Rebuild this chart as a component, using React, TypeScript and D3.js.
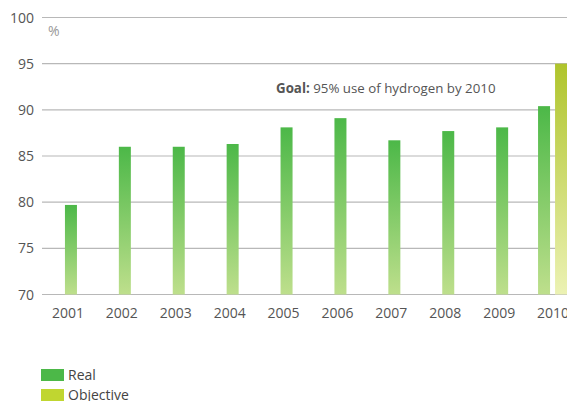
import React from "react";
import * as d3 from "d3";

const years = ["2001","2002","2003","2004","2005","2006","2007","2008","2009","2010"];
const realValues = [79.7, 86.0, 86.0, 86.3, 88.1, 89.1, 86.7, 87.7, 88.1, 90.4];
const objectiveValues: (number | null)[] = [null, null, null, null, null, null, null, null, null, 95];
const yTicks = [70, 75, 80, 85, 90, 95, 100];
const legendItems = ["Real", "Objective"];

const W = 567, H = 401;
const FONT = "'Open Sans', sans-serif";

export default function App() {
  const y = d3.scaleLinear().domain([70, 100]).range([294.5, 17.5]);
  const x = d3.scaleBand<string>().domain(years).range([44, 583]).padding(0);
  const bw = 12;
  const legendColors = ["#4cb848", "#c0d630"];
  return (
    <svg width={W} height={H} style={{ position: "absolute", left: 0, top: 0, display: "block" }}>
      <defs>
        <linearGradient id="gReal" x1="0" y1="0" x2="0" y2="1">
          <stop offset="0" stopColor="#4cb848" />
          <stop offset="1" stopColor="#bedf8c" />
        </linearGradient>
        <linearGradient id="gObj" x1="0" y1="0" x2="0" y2="1">
          <stop offset="0" stopColor="#afc42c" />
          <stop offset="1" stopColor="#ecf2b4" />
        </linearGradient>
      </defs>
      {yTicks.map((t) => (
        <g key={t}>
          <line x1={42} x2={W} y1={y(t)} y2={y(t)} stroke="#b8b8b8" strokeWidth={1.2} />
          <text x={34} y={y(t) + 5} textAnchor="end" fontFamily={FONT} fontSize={14} fill="#555">{t}</text>
        </g>
      ))}
      <text x={48} y={36} fontFamily={FONT} fontSize={14} fill="#999">%</text>
      {years.map((yr, i) => {
        const c = (x(yr) as number) + x.bandwidth() / 2;
        const obj = objectiveValues[i];
        const rx = obj != null ? c - 18 : c - bw / 2;
        return (
          <g key={yr}>
            <rect x={rx} y={y(realValues[i])} width={bw} height={y(70) - y(realValues[i])} fill="url(#gReal)" />
            {obj != null && (
              <rect x={c - 1} y={y(obj)} width={bw} height={y(70) - y(obj)} fill="url(#gObj)" />
            )}
            <text x={c - 3} y={318} textAnchor="middle" fontFamily={FONT} fontSize={14} fill="#555">{yr}</text>
          </g>
        );
      })}
      <text x={276} y={93} fontFamily={FONT} fontSize={13.3} fill="#555">
        <tspan fontWeight="bold">Goal:</tspan> 95% use of hydrogen by 2010
      </text>
      {legendItems.map((l, i) => (
        <g key={l}>
          <rect x={41} y={369 + i * 20} width={23} height={12} fill={legendColors[i]} />
          <text x={68} y={380 + i * 20} fontFamily={FONT} fontSize={14} fill="#444">{l}</text>
        </g>
      ))}
    </svg>
  );
}
